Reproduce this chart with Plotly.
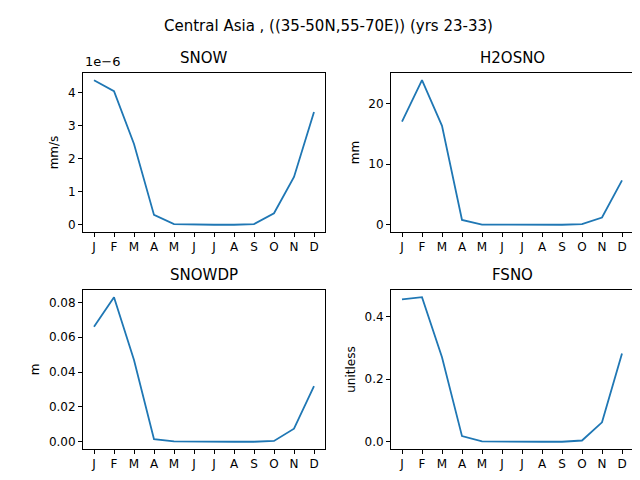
import plotly.graph_objects as go

months = ["J","F","M","A","M","J","J","A","S","O","N","D"]
snow = [4.38, 4.05, 2.45, 0.30, 0.02, 0.0, 0.0, 0.0, 0.02, 0.35, 1.45, 3.42]  # x1e-6 mm/s
h2osno = [17.0, 23.8, 16.3, 0.8, 0.02, 0.0, 0.0, 0.0, 0.0, 0.1, 1.2, 7.3]
snowdp = [0.066, 0.083, 0.047, 0.0015, 0.0002, 0.0, 0.0, 0.0, 0.0, 0.0005, 0.0075, 0.032]
fsno = [0.455, 0.462, 0.27, 0.018, 0.001, 0.0, 0.0, 0.0, 0.0, 0.004, 0.062, 0.282]

W, H = 640, 480
panels = [
    ("SNOW", "mm/s", snow, (75, 317), (65, 224), [0, 1, 2, 3, 4], ["0","1","2","3","4"]),
    ("H2OSNO", "mm", h2osno, (383, 625), (65, 224), [0, 10, 20], ["0","10","20"]),
    ("SNOWDP", "m", snowdp, (75, 317), (282, 441), [0, 0.02, 0.04, 0.06, 0.08], ["0.00","0.02","0.04","0.06","0.08"]),
    ("FSNO", "unitless", fsno, (383, 625), (282, 441), [0, 0.2, 0.4], ["0.0","0.2","0.4"]),
]
fig = go.Figure()
font = dict(family="DejaVu Sans", size=13, color="black")
axstyle = dict(showline=True, mirror=True, linecolor="black", linewidth=1, ticks="outside", automargin=False,
               ticklen=4, tickcolor="black", showgrid=False, zeroline=False, tickfont=dict(family="DejaVu Sans", size=12))
ann = []
for i, (title, unit, vals, xd, yd, tv, tt) in enumerate(panels):
    n = "" if i == 0 else str(i + 1)
    fig.add_trace(go.Scatter(x=list(range(12)), y=vals, mode="lines", line=dict(color="#1f77b4", width=1.8),
                             xaxis="x" + n, yaxis="y" + n, showlegend=False))
    lo, hi = min(vals), max(vals)
    pad = (hi - lo) * 0.05
    fig.layout["xaxis" + n] = dict(domain=[xd[0] / W, xd[1] / W], anchor="y" + n, range=[-0.55, 11.55],
                                   tickvals=list(range(12)), ticktext=months, **axstyle)
    fig.layout["yaxis" + n] = dict(domain=[1 - yd[1] / H, 1 - yd[0] / H], anchor="x" + n, range=[lo - pad, hi + pad],
                                   tickvals=tv, ticktext=tt, title=dict(text=unit, font=dict(family="DejaVu Sans", size=12), standoff=6), **axstyle)
    ann.append(dict(text=title, x=(xd[0] + xd[1]) / 2 / W, y=1 - (yd[0] - 4) / H, xref="paper", yref="paper",
                    xanchor="center", yanchor="bottom", showarrow=False, font=dict(family="DejaVu Sans", size=15)))
ann.append(dict(text="1e\u22126", x=75 / W, y=1 - 63 / H, xref="paper", yref="paper", xanchor="left", yanchor="bottom",
                showarrow=False, font=dict(family="DejaVu Sans", size=13)))
ann.append(dict(text="Central Asia , ((35-50N,55-70E)) (yrs 23-33)", x=0.5, y=1 - 7 / H, xref="paper", yref="paper",
                xanchor="center", yanchor="top", showarrow=False, font=dict(family="DejaVu Sans", size=15)))
fig.update_layout(width=W, height=H, margin=dict(l=0, r=0, t=0, b=0), plot_bgcolor="white", paper_bgcolor="white",
                  annotations=ann, font=font)
fig.write_html("out.html")
